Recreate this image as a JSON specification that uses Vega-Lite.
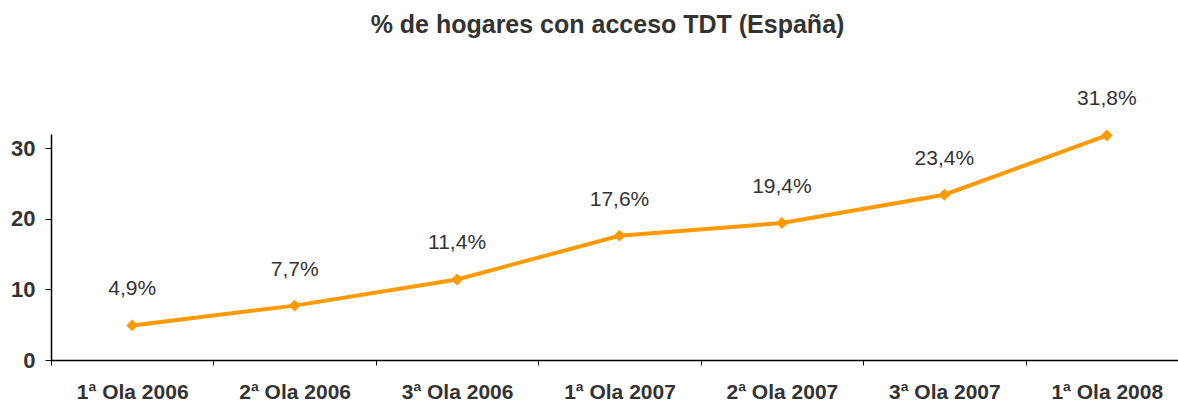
{
  "$schema": "https://vega.github.io/schema/vega-lite/v6.json",
  "autosize": {"type": "none"},
  "width": 1137,
  "height": 226,
  "padding": {"left": 51, "top": 134, "right": 0, "bottom": 41},
  "background": "white",
  "title": {
    "text": "% de hogares con acceso TDT (España)",
    "font": "Liberation Sans",
    "fontSize": 25,
    "fontWeight": "bold",
    "color": "#333333",
    "anchor": "middle",
    "frame": "group",
    "orient": "top",
    "dx": -12,
    "offset": 50
  },
  "data": {
    "values": [
      {"ola": "1ª Ola 2006", "pct": 4.9, "label": "4,9%"},
      {"ola": "2ª Ola 2006", "pct": 7.7, "label": "7,7%"},
      {"ola": "3ª Ola 2006", "pct": 11.4, "label": "11,4%"},
      {"ola": "1ª Ola 2007", "pct": 17.6, "label": "17,6%"},
      {"ola": "2ª Ola 2007", "pct": 19.4, "label": "19,4%"},
      {"ola": "3ª Ola 2007", "pct": 23.4, "label": "23,4%"},
      {"ola": "1ª Ola 2008", "pct": 31.8, "label": "31,8%"}
    ]
  },
  "encoding": {
    "x": {
      "field": "ola",
      "type": "nominal",
      "sort": null,
      "scale": {"paddingInner": 0, "paddingOuter": 0},
      "axis": {
        "title": null,
        "labelAngle": 0,
        "labelFont": "Liberation Sans",
        "labelFontSize": 21,
        "labelFontWeight": "bold",
        "labelColor": "#333333",
        "labelPadding": 16,
        "tickBand": "extent",
        "tickSize": 5,
        "tickColor": "#000000",
        "domainColor": "#000000",
        "domainWidth": 1.5,
        "grid": false
      }
    },
    "y": {
      "field": "pct",
      "type": "quantitative",
      "scale": {"domain": [0, 32], "nice": false},
      "axis": {
        "title": null,
        "values": [0, 10, 20, 30],
        "labelFont": "Liberation Sans",
        "labelFontSize": 22,
        "labelFontWeight": "bold",
        "labelColor": "#333333",
        "labelPadding": 10,
        "tickSize": 6,
        "tickColor": "#000000",
        "domainColor": "#000000",
        "domainWidth": 1.5,
        "grid": false
      }
    }
  },
  "layer": [
    {
      "mark": {"type": "line", "color": "#FF9900", "strokeWidth": 4}
    },
    {
      "mark": {"type": "point", "shape": "diamond", "filled": true, "color": "#FF9900", "size": 140, "opacity": 1}
    },
    {
      "mark": {"type": "text", "dy": -36, "font": "Liberation Sans", "fontSize": 21, "color": "#333333", "baseline": "middle"},
      "encoding": {"text": {"field": "label"}}
    }
  ],
  "config": {"view": {"stroke": null}}
}
